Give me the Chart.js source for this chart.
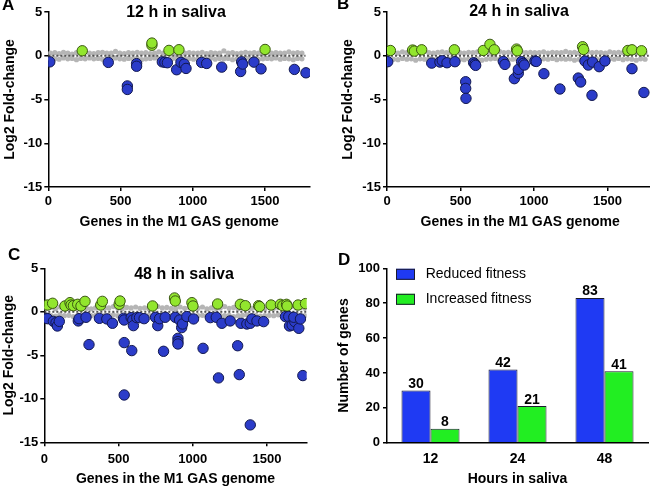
<!DOCTYPE html>
<html>
<head>
<meta charset="utf-8">
<script src="https://cdn.jsdelivr.net/npm/chart.js@4/dist/chart.umd.min.js"></script>
<style>
  html, body { margin:0; padding:0; background:#fff; }
  #wrap { position:relative; width:650px; height:488px; overflow:hidden; background:#fff; }
  .p { position:absolute; }
</style>
</head>
<body>
<div id="wrap">
  <div class="p" style="left:0;top:0"><canvas id="cA" width="325" height="240"></canvas></div>
  <div class="p" style="left:325px;top:0"><canvas id="cB" width="340" height="240"></canvas></div>
  <div class="p" style="left:0;top:240px"><canvas id="cC" width="325" height="248"></canvas></div>
  <div class="p" style="left:325px;top:240px"><canvas id="cD" width="340" height="248"></canvas></div>
</div>
<script>
// ---------------- DATA ----------------
const geneTicks = [0, 500, 1000, 1500];
const lfcTicks = [-15, -10, -5, 0, 5];
const countTicks = [0, 20, 40, 60, 80, 100];
const hours = ['12', '24', '48'];
const reducedCounts = [30, 42, 83];
const increasedCounts = [8, 21, 41];

// Panel A (12 h)
const redGenesA = [10,415,547,547,611,611,789,807,824,888,918,941,953,1061,1096,1200,1331,1338,1345,1423,1472,1703,1783];
const redLfcA   = [-0.7,-0.76,-3.45,-3.85,-0.9,-1.2,-0.7,-0.75,-0.8,-1.6,-0.76,-0.95,-1.45,-0.76,-0.88,-1.3,-1.8,-0.7,-0.95,-0.73,-1.5,-1.56,-1.95];
const incGenesA = [235,717,717,835,904,1500];
const incLfcA   = [0.57,1.2,1.45,0.61,0.69,0.72];

// Panel B (24 h)
const redGenesB = [5,304,360,376,408,462,535,535,537,589,598,603,791,802,866,893,893,915,927,934,1006,1015,1067,1176,1301,1317,1346,1369,1394,1398,1443,1482,1666,1747];
const redLfcB   = [-0.68,-0.84,-0.72,-0.57,-0.8,-0.68,-2.97,-3.73,-4.87,-0.8,-0.95,-1.1,-0.65,-0.99,-2.62,-2.0,-1.56,-0.68,-0.87,-1.06,-0.6,-0.65,-2.05,-3.8,-2.55,-3.0,-0.6,-1.06,-4.52,-0.72,-1.25,-0.6,-1.48,-4.2];
const incGenesB = [23,174,186,236,458,655,700,730,881,886,1330,1337,1638,1666,1731];
const incLfcB   = [0.6,0.65,0.53,0.68,0.68,0.6,1.3,0.68,0.76,0.57,1.03,0.72,0.6,0.68,0.57];

// Panel C (48 h)
const redGenesC = [16,22,61,79,88,101,229,234,281,301,371,421,459,533,538,538,538,585,589,596,600,623,641,672,749,764,776,814,803,882,900,900,900,911,925,931,960,1005,1069,1118,1158,1173,1196,1252,1302,1313,1324,1364,1387,1398,1387,1432,1477,1624,1646,1651,1669,1687,1680,1714,1725,1741];
const redLfcC   = [-0.75,-0.79,-1.1,-1.25,-1.63,-1.1,-1.05,-0.79,-0.63,-3.77,-0.75,-0.82,-1.32,-0.75,-3.54,-9.56,-0.94,-0.67,-4.46,-0.94,-1.59,-0.67,-0.67,-0.79,-0.63,-1.59,-0.79,-0.63,-4.54,-0.63,-3.05,-3.43,-3.7,-0.94,-1.82,-1.4,-0.55,-0.82,-4.2,-0.67,-0.63,-7.6,-1.32,-1.05,-3.9,-7.22,-1.32,-1.4,-1.32,-0.82,-13.0,-1.05,-1.13,-0.55,-0.55,-1.63,-1.53,-1.13,-0.63,-1.9,-0.82,-7.33];
const incGenesC = [22,56,139,173,180,196,225,247,274,380,391,504,510,729,877,882,994,1001,1167,1320,1354,1443,1450,1527,1590,1606,1631,1635,1709,1759];
const incLfcC   = [0.78,0.98,0.67,1.05,0.78,0.7,0.86,0.67,1.2,0.78,1.2,0.86,1.24,0.67,1.59,1.24,1.05,0.67,0.9,0.86,0.7,0.7,0.6,0.78,0.86,0.7,0.86,0.67,0.78,0.94];

// Non-significant genes (grey band), sampled along the genome
const greyGenes = [15,45,75,105,135,165,195,225,255,285,315,345,375,405,435,465,495,525,555,585,615,645,675,705,735,765,795,825,855,885,915,945,975,1005,1035,1065,1095,1125,1155,1185,1215,1245,1275,1305,1335,1365,1395,1425,1455,1485,1515,1545,1575,1605,1635,1665,1695,1725,1755];
const greyHiA = [0.30,0.35,0.25,0.40,0.30,0.20,0.35,0.30,0.45,0.30,0.25,0.35,0.40,0.30,0.30,0.50,0.30,0.25,0.35,0.30,0.40,0.30,0.35,0.25,0.30,0.45,0.30,0.35,0.30,0.25,0.40,0.30,0.35,0.30,0.30,0.40,0.25,0.35,0.30,0.30,0.55,0.30,0.35,0.25,0.30,0.40,0.30,0.35,0.30,0.25,0.40,0.30,0.35,0.30,0.30,0.45,0.30,0.35,0.30];
const greyLoA = [-0.30,-0.35,-0.40,-0.25,-0.35,-0.30,-0.45,-0.30,-0.35,-0.25,-0.35,-0.30,-0.40,-0.35,-0.30,-0.25,-0.35,-0.40,-0.30,-0.35,-0.30,-0.45,-0.35,-0.30,-0.25,-0.35,-0.30,-0.40,-0.35,-0.30,-0.25,-0.35,-0.30,-0.40,-0.35,-0.30,-0.35,-0.25,-0.40,-0.30,-0.35,-0.30,-0.45,-0.35,-0.30,-0.25,-0.35,-0.30,-0.40,-0.35,-0.30,-0.35,-0.25,-0.40,-0.30,-0.35,-0.45,-0.30,-0.35];
const greyHiB = [0.35,0.40,0.30,0.45,0.35,0.30,0.40,0.35,0.50,0.35,0.30,0.40,0.45,0.35,0.35,0.55,0.35,0.30,0.40,0.35,0.45,0.35,0.40,0.30,0.35,0.50,0.35,0.40,0.35,0.30,0.45,0.35,0.40,0.35,0.35,0.45,0.30,0.40,0.35,0.35,0.50,0.35,0.40,0.30,0.35,0.45,0.35,0.40,0.35,0.30,0.45,0.35,0.40,0.35,0.35,0.50,0.35,0.40,0.35];
const greyLoB = [-0.35,-0.40,-0.45,-0.30,-0.40,-0.35,-0.50,-0.35,-0.40,-0.30,-0.40,-0.35,-0.45,-0.40,-0.35,-0.30,-0.40,-0.45,-0.35,-0.40,-0.35,-0.50,-0.40,-0.35,-0.30,-0.40,-0.35,-0.45,-0.40,-0.35,-0.30,-0.40,-0.35,-0.45,-0.40,-0.35,-0.40,-0.30,-0.45,-0.35,-0.40,-0.35,-0.50,-0.40,-0.35,-0.30,-0.40,-0.35,-0.45,-0.40,-0.35,-0.40,-0.30,-0.45,-0.35,-0.40,-0.50,-0.35,-0.40];
const greyHiC = [0.40,0.50,0.35,0.55,0.45,0.40,0.60,0.45,0.50,0.40,0.35,0.45,0.55,0.40,0.45,0.60,0.40,0.35,0.50,0.45,0.55,0.40,0.45,0.35,0.40,0.60,0.45,0.50,0.40,0.35,0.55,0.40,0.50,0.45,0.40,0.55,0.35,0.45,0.40,0.45,0.60,0.40,0.50,0.35,0.45,0.55,0.40,0.50,0.45,0.35,0.55,0.40,0.50,0.45,0.40,0.60,0.45,0.50,0.40];
const greyLoC = [-0.40,-0.45,-0.50,-0.35,-0.45,-0.40,-0.55,-0.40,-0.45,-0.35,-0.45,-0.40,-0.50,-0.45,-0.40,-0.35,-0.45,-0.50,-0.40,-0.45,-0.40,-0.55,-0.45,-0.40,-0.35,-0.45,-0.40,-0.50,-0.45,-0.40,-0.35,-0.45,-0.40,-0.50,-0.45,-0.40,-0.45,-0.35,-0.50,-0.40,-0.45,-0.40,-0.55,-0.45,-0.40,-0.35,-0.45,-0.40,-0.50,-0.45,-0.40,-0.45,-0.35,-0.50,-0.40,-0.45,-0.55,-0.40,-0.45];
const zeroLineEnd = 1780;

// ---------------- STYLE ----------------
const FONT = "'Liberation Sans', Arial, Helvetica, sans-serif";
Chart.defaults.font.family = FONT;
Chart.defaults.color = '#000';
const BLUE = '#2b3cc9', BLUE_EDGE = '#12184f';
const GREEN = '#92e62e', GREEN_EDGE = '#3b5712';
const BAR_BLUE = '#1f3af3', BAR_GREEN = '#22ee22', BAR_EDGE = '#1b1b2e';
const plainNum = v => String(v);

function pts(xs, ys) {
  const n = Math.min(xs.length, ys.length), a = [];
  for (let i = 0; i < n; i++) a.push({ x: xs[i], y: ys[i] });
  return a;
}

const panelText = {
  id: 'panelText',
  afterDraw(chart, args, o) {
    const ctx = chart.ctx;
    ctx.save();
    ctx.fillStyle = '#000';
    ctx.textBaseline = 'middle';
    if (o.letter) {
      ctx.font = 'bold 17px ' + FONT;
      ctx.textAlign = 'left';
      ctx.fillText(o.letter, o.lx, o.ly);
    }
    if (o.title) {
      ctx.font = 'bold 16px ' + FONT;
      ctx.textAlign = 'center';
      ctx.fillText(o.title, o.tx, o.ty);
    }
    ctx.restore();
  }
};

function axisCommon() {
  return {
    border: { color: '#000', width: 1.5 },
    grid: { drawOnChartArea: false, color: '#000', lineWidth: 1.5, tickLength: 4 }
  };
}

function scatterPanel(id, c) {
  return new Chart(document.getElementById(id), {
    type: 'scatter',
    data: {
      datasets: [
        { label: 'Reduced fitness', data: pts(c.redX, c.redY), backgroundColor: BLUE, borderColor: BLUE_EDGE, borderWidth: 1, pointRadius: 5.2, order: 1 },
        { label: 'Increased fitness', data: pts(c.incX, c.incY), backgroundColor: GREEN, borderColor: GREEN_EDGE, borderWidth: 1, pointRadius: 5.2, order: 2 },
        { type: 'line', label: 'zero', data: [{ x: 0, y: 0 }, { x: zeroLineEnd, y: 0 }], borderColor: '#555', borderDash: [2, 2], borderWidth: 2, pointRadius: 0, order: 3 },
        { label: 'ns hi', data: pts(greyGenes, c.hi), backgroundColor: '#b5b5b5', borderWidth: 0, pointRadius: 2.6, order: 4 },
        { label: 'ns lo', data: pts(greyGenes, c.lo), backgroundColor: '#b5b5b5', borderWidth: 0, pointRadius: 2.6, order: 5 }
      ]
    },
    options: {
      responsive: false,
      animation: false,
      layout: { padding: c.pad },
      plugins: { legend: { display: false }, tooltip: { enabled: false }, panelText: c.text },
      scales: {
        x: Object.assign(axisCommon(), {
          type: 'linear', min: 0, max: c.xmax,
          afterFit: s => { s.height = c.xh; },
          afterBuildTicks: s => { s.ticks = geneTicks.map(v => ({ value: v })); },
          ticks: { font: { size: 13, weight: 'bold' }, padding: c.xtp, color: '#000', maxRotation: 0, callback: plainNum },
          title: { display: true, text: 'Genes in the M1 GAS genome', font: { size: 14, weight: 'bold' }, color: '#000', padding: { top: 0, bottom: c.xtb } }
        }),
        y: Object.assign(axisCommon(), {
          type: 'linear', min: -15, max: 5,
          afterFit: s => { s.width = c.yw; },
          afterBuildTicks: s => { s.ticks = lfcTicks.map(v => ({ value: v })); },
          ticks: { font: { size: 13, weight: 'bold' }, padding: 2, color: '#000', callback: plainNum },
          title: { display: true, text: 'Log2 Fold-change', font: { size: 14, weight: 'bold' }, color: '#000', padding: { top: c.ytp, bottom: 0 } }
        })
      }
    },
    plugins: [panelText]
  });
}

scatterPanel('cA', {
  redX: redGenesA, redY: redLfcA, incX: incGenesA, incY: incLfcA, hi: greyHiA, lo: greyLoA,
  xmax: 1811, pad: { left: 0, top: 12, right: 15, bottom: 0 }, xh: 53, yw: 48.3,
  xtp: 2.3, xtb: 9.6, ytp: 1.6,
  text: { letter: 'A', lx: 2, ly: 5, title: '12 h in saliva', tx: 176, ty: 13 }
});
scatterPanel('cB', {
  redX: redGenesB, redY: redLfcB, incX: incGenesB, incY: incLfcB, hi: greyHiB, lo: greyLoB,
  xmax: 1811, pad: { left: 0, top: 12, right: 11.7, bottom: 0 }, xh: 53, yw: 62,
  xtp: 2.3, xtb: 9.9, ytp: 14.6,
  text: { letter: 'B', lx: 12, ly: 4, title: '24 h in saliva', tx: 194, ty: 12 }
});
scatterPanel('cC', {
  redX: redGenesC, redY: redLfcC, incX: incGenesC, incY: incLfcC, hi: greyHiC, lo: greyLoC,
  xmax: 1767, pad: { left: 0, top: 28.3, right: 18.3, bottom: 0 }, xh: 45.7, yw: 44.3,
  xtp: 5, xtb: 0.6, ytp: 1.2,
  text: { letter: 'C', lx: 8, ly: 15.5, title: '48 h in saliva', tx: 184, ty: 34.3 }
});

// ---------------- Panel D ----------------
const barLabels = {
  id: 'barLabels',
  afterDatasetsDraw(chart) {
    const ctx = chart.ctx;
    ctx.save();
    ctx.fillStyle = '#000';
    ctx.font = 'bold 14px ' + FONT;
    ctx.textAlign = 'center';
    ctx.textBaseline = 'alphabetic';
    chart.data.datasets.forEach((ds, di) => {
      chart.getDatasetMeta(di).data.forEach((bar, i) => {
        ctx.fillText(String(ds.data[i]), bar.x, bar.y - 2.5);
      });
    });
    ctx.restore();
  }
};
const boxLegend = {
  id: 'boxLegend',
  afterDraw(chart, args, o) {
    const ctx = chart.ctx;
    ctx.save();
    chart.data.datasets.forEach((ds, i) => {
      const y = o.y + i * o.dy;
      ctx.fillStyle = ds.backgroundColor;
      ctx.fillRect(o.bx, y - 5.5, 19, 11);
      ctx.strokeStyle = ds.borderColor;
      ctx.lineWidth = 1;
      ctx.strokeRect(o.bx + 0.5, y - 5.5 + 0.5, 18, 10);
      ctx.fillStyle = '#000';
      ctx.font = '14px ' + FONT;
      ctx.textAlign = 'left';
      ctx.textBaseline = 'middle';
      ctx.fillText(ds.label, o.tx, y);
    });
    ctx.restore();
  }
};

new Chart(document.getElementById('cD'), {
  type: 'bar',
  data: {
    labels: hours,
    datasets: [
      { label: 'Reduced fitness', data: reducedCounts, backgroundColor: BAR_BLUE, borderColor: BAR_EDGE, borderWidth: 1, categoryPercentage: 0.667, barPercentage: 1 },
      { label: 'Increased fitness', data: increasedCounts, backgroundColor: BAR_GREEN, borderColor: BAR_EDGE, borderWidth: 1, categoryPercentage: 0.667, barPercentage: 1 }
    ]
  },
  options: {
    responsive: false,
    animation: false,
    layout: { padding: { left: 0, top: 28.3, right: 17, bottom: 0 } },
    plugins: {
      legend: { display: false }, tooltip: { enabled: false },
      panelText: { letter: 'D', lx: 13, ly: 20.5 },
      boxLegend: { bx: 71, tx: 100.7, y: 34.3, dy: 25 }
    },
    scales: {
      x: {
        border: { color: '#000', width: 1.5 },
        grid: { display: false, drawTicks: false },
        afterFit: s => { s.height = 45.3; },
        ticks: { font: { size: 14, weight: 'bold' }, padding: 8.4, color: '#000' },
        title: { display: true, text: 'Hours in saliva', font: { size: 14, weight: 'bold' }, color: '#000', padding: { top: 0, bottom: 0.3 } }
      },
      y: Object.assign(axisCommon(), {
        min: 0, max: 100,
        afterFit: s => { s.width = 62; },
        afterBuildTicks: s => { s.ticks = countTicks.map(v => ({ value: v })); },
        ticks: { font: { size: 13, weight: 'bold' }, padding: 3, color: '#000', callback: plainNum },
        title: { display: true, text: 'Number of genes', font: { size: 14, weight: 'bold' }, color: '#000', padding: { top: 10.9, bottom: 0 } }
      })
    }
  },
  plugins: [panelText, barLabels, boxLegend]
});
</script>
</body>
</html>
